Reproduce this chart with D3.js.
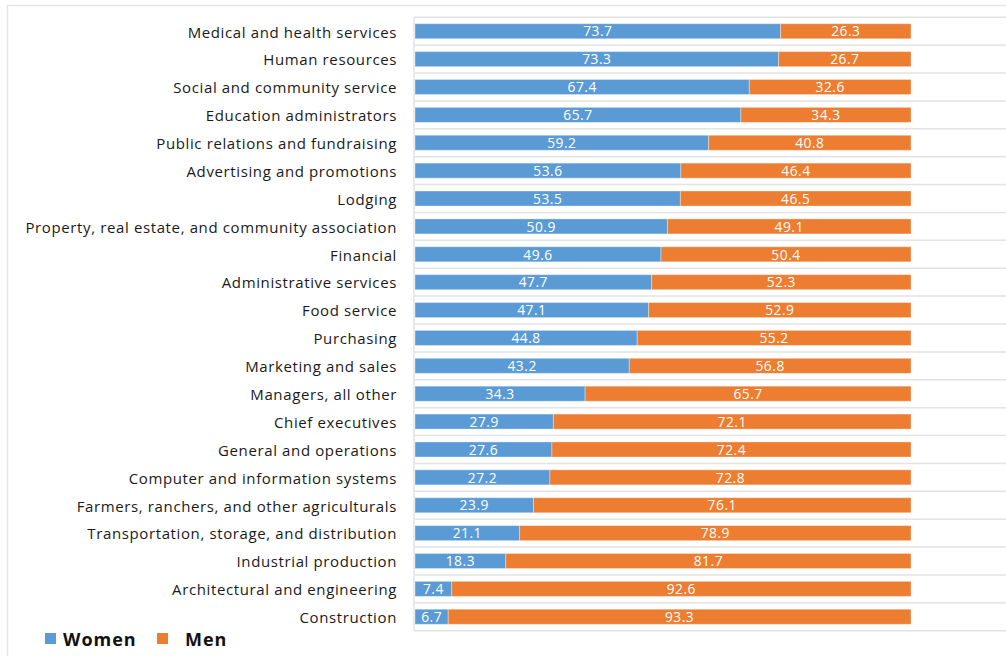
<!DOCTYPE html>
<html><head><meta charset="utf-8">
<script src="https://cdn.jsdelivr.net/npm/d3@7"></script>
<style>body{margin:0;background:#fff;}svg{display:block;}</style>
</head><body>
<svg id="c" width="1006" height="656"></svg>
<script>
const categories = ["Medical and health services","Human resources","Social and community service","Education administrators","Public relations and fundraising","Advertising and promotions","Lodging","Property, real estate, and community association","Financial","Administrative services","Food service","Purchasing","Marketing and sales","Managers, all other","Chief executives","General and operations","Computer and information systems","Farmers, ranchers, and other agriculturals","Transportation, storage, and distribution","Industrial production","Architectural and engineering","Construction"];
const women = [73.7,73.3,67.4,65.7,59.2,53.6,53.5,50.9,49.6,47.7,47.1,44.8,43.2,34.3,27.9,27.6,27.2,23.9,21.1,18.3,7.4,6.7];
const men = [26.3,26.7,32.6,34.3,40.8,46.4,46.5,49.1,50.4,52.3,52.9,55.2,56.8,65.7,72.1,72.4,72.8,76.1,78.9,81.7,92.6,93.3];
const seriesNames = ["Women","Men"];
const colors = ["#5B9BD5","#ED7D31"];

const svg = d3.select("#c");
const W = 1006, H = 656;
svg.append("path").attr("d","M7.5,656 V5.5 H1006").attr("fill","none").attr("stroke","#e6e6e6").attr("stroke-width",1.5);

const x = d3.scaleLinear().domain([0,100]).range([415,911]);
const y = d3.scaleBand().domain(categories).range([17.3,630.7]).paddingInner(0.46).paddingOuter(0.23);
const step = y.step();

const g = svg.append("g");
d3.range(categories.length+1).forEach(k=>{
  const yy = 17.3 + k*step;
  g.append("line").attr("x1",414).attr("x2",W).attr("y1",yy).attr("y2",yy).attr("stroke","#e3e3e3").attr("stroke-width",1.5);
});
g.append("line").attr("x1",414).attr("x2",414).attr("y1",17.3).attr("y2",630.7).attr("stroke","#e3e3e3").attr("stroke-width",1.5);

const data = categories.map((c,i)=>({cat:c, Women:women[i], Men:men[i]}));
const stack = d3.stack().keys(seriesNames)(data);

stack.forEach((s,si)=>{
  const gg = svg.append("g");
  gg.selectAll("rect").data(s).join("rect")
    .attr("x",d=>x(d[0])).attr("width",d=>x(d[1])-x(d[0]))
    .attr("y",d=>y(d.data.cat)).attr("height",y.bandwidth())
    .attr("fill",colors[si]).attr("stroke","#ffffff").attr("stroke-opacity",0.35).attr("stroke-width",1);
  gg.selectAll("text").data(s).join("text")
    .attr("x",d=>(x(d[0])+x(d[1]))/2).attr("y",d=>y(d.data.cat)+y.bandwidth()/2)
    .attr("dy","0.38em").attr("text-anchor","middle")
    .attr("font-family","'Open Sans', sans-serif").attr("font-size",13.8).attr("letter-spacing",0.5).attr("fill","#fff")
    .text(d=>d.data[seriesNames[si]].toFixed(1));
});

const yAxis = d3.axisLeft(y).tickSize(0).tickPadding(0);
const ya = svg.append("g").attr("transform","translate(397,0)").call(yAxis);
ya.select(".domain").remove();
ya.selectAll("text").attr("font-family","'Open Sans', sans-serif").attr("font-size",15).attr("letter-spacing",0.62).attr("fill","#1a1a1a").attr("dy","0.42em");

const lg = svg.append("g").attr("font-family","'Open Sans', sans-serif").attr("font-weight","bold").attr("font-size",18).attr("fill","#111");
const lx = [45,157], tx = [63,185];
seriesNames.forEach((n,i)=>{
  lg.append("rect").attr("x",lx[i]).attr("y",633).attr("width",11).attr("height",11).attr("fill",colors[i]);
  lg.append("text").attr("x",tx[i]).attr("y",646).attr("letter-spacing",1).text(n);
});
</script>
</body></html>
